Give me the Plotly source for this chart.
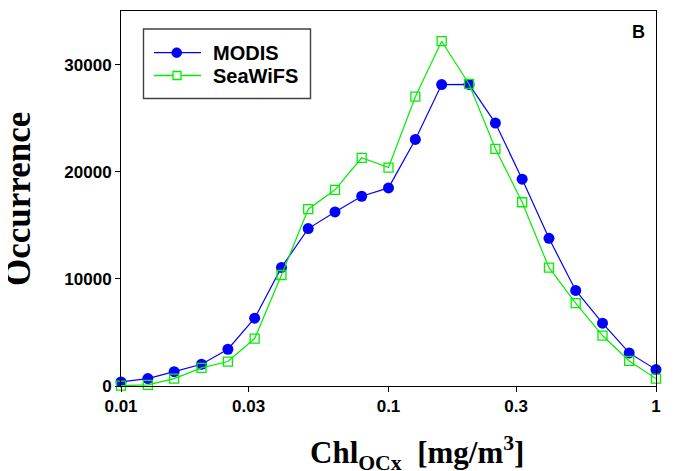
import plotly.graph_objects as go

chl = [0.01, 0.0126, 0.0158, 0.02, 0.0251, 0.0316, 0.0398, 0.0501, 0.0631, 0.0794,
       0.1, 0.126, 0.158, 0.2, 0.251, 0.316, 0.398, 0.501, 0.631, 0.794, 1.0]
modis = [380, 690, 1340, 2030, 3430, 6330, 11070, 14690, 16250, 17710,
         18490, 23010, 28130, 28150, 24540, 19300, 13780, 8920, 5860, 3090, 1530]
seawifs = [40, 100, 690, 1690, 2280, 4430, 10360, 16500, 18310, 21300,
           20390, 27000, 32180, 28190, 22140, 17150, 11040, 7740, 4710, 2340, 690]
x_ticks = [0.01, 0.03, 0.1, 0.3, 1]
x_tick_text = ["0.01", "0.03", "0.1", "0.3", "1"]
y_ticks = [0, 10000, 20000, 30000]
y_tick_text = ["0", "10000", "20000", "30000"]
series_names = ["MODIS", "SeaWiFS"]

BLUE = "#0000FF"
GREEN = "#00EE00"

OFF = 8  # page body margin
W, H = 679 - OFF, 471 - OFF
L, R, T = 121 - OFF, 23, 11 - OFF
ph = 386 - 11
B = H - T - ph
pw = W - L - R

def px(xp):
    return (xp - OFF - L) / pw

def py(yp):
    return (T + ph - (yp - OFF)) / ph

fig = go.Figure()
fig.add_trace(go.Scatter(
    x=chl, y=modis, name=series_names[0], mode="lines+markers",
    line=dict(color=BLUE, width=1.2),
    marker=dict(symbol="circle", size=11, color=BLUE),
    cliponaxis=False, showlegend=False))
fig.add_trace(go.Scatter(
    x=chl, y=seawifs, name=series_names[1], mode="lines+markers",
    line=dict(color=GREEN, width=1.2),
    marker=dict(symbol="square-open", size=9, color=GREEN, line=dict(width=1.3)),
    cliponaxis=False, showlegend=False))

# custom legend (box, key lines, key symbols)
shapes = [
    dict(type="rect", xref="paper", yref="paper", x0=px(143.5), x1=px(310.5), y0=py(98.5), y1=py(29),
         line=dict(color="#404040", width=1.4), fillcolor="white", layer="above"),
    dict(type="line", xref="paper", yref="paper", x0=px(154), x1=px(201), y0=py(52.7), y1=py(52.7),
         line=dict(color=BLUE, width=1.3), layer="above"),
    dict(type="circle", xref="paper", yref="paper", x0=px(171.7), x1=px(181.7), y0=py(57.7), y1=py(47.7),
         line=dict(color=BLUE, width=0.5), fillcolor=BLUE, layer="above"),
    dict(type="line", xref="paper", yref="paper", x0=px(154), x1=px(201), y0=py(75.5), y1=py(75.5),
         line=dict(color=GREEN, width=1.3), layer="above"),
    dict(type="rect", xref="paper", yref="paper", x0=px(173), x1=px(181), y0=py(79.5), y1=py(71.5),
         line=dict(color=GREEN, width=1.3), fillcolor="white", layer="above"),
]

legfont = dict(family="Liberation Sans, Arial", size=20, color="black", weight="bold")
axfont = dict(family="Liberation Sans, Arial", size=17, color="black", weight="bold")
fig.update_layout(
    width=W, height=H,
    margin=dict(l=L, r=R, t=T, b=B, autoexpand=False),
    paper_bgcolor="white", plot_bgcolor="white",
    showlegend=False,
    shapes=shapes,
    xaxis=dict(type="log", range=[-2, 0], tickvals=x_ticks, ticktext=x_tick_text,
               ticks="outside", ticklen=5, tickwidth=1, tickcolor="black",
               showline=True, linecolor="black", linewidth=1, mirror=True,
               showgrid=False, zeroline=False, tickfont=axfont),
    yaxis=dict(range=[0, 35000], tickvals=y_ticks, ticktext=y_tick_text,
               ticks="outside", ticklen=5, tickwidth=1, tickcolor="black",
               showline=True, linecolor="black", linewidth=1, mirror=True,
               showgrid=False, zeroline=False, tickfont=axfont),
    annotations=[
        dict(text="<b>Occurrence</b>", xref="paper", yref="paper",
             x=px(18), y=py(199), xanchor="center", yanchor="middle", textangle=-90,
             showarrow=False, borderpad=0,
             font=dict(family="Liberation Serif, Times New Roman", size=35, color="black")),
        dict(text="<b>Chl<sub>OCx</sub>&nbsp;&nbsp;[mg/m<sup>3</sup>]</b>", xref="paper", yref="paper",
             x=px(416.5), y=py(453), xanchor="center", yanchor="middle",
             showarrow=False, borderpad=0,
             font=dict(family="Liberation Serif, Times New Roman", size=31, color="black")),
        dict(text="<b>B</b>", xref="paper", yref="paper",
             x=px(638), y=py(32), xanchor="center", yanchor="middle",
             showarrow=False,
             font=dict(family="Liberation Sans, Arial", size=18, color="black")),
        dict(text=series_names[0], xref="paper", yref="paper",
             x=px(212), y=py(53), xanchor="left", yanchor="middle",
             showarrow=False, borderpad=0, font=legfont),
        dict(text=series_names[1], xref="paper", yref="paper",
             x=px(212), y=py(76.5), xanchor="left", yanchor="middle",
             showarrow=False, borderpad=0, font=legfont),
    ],
)

fig.write_html("out.html")
